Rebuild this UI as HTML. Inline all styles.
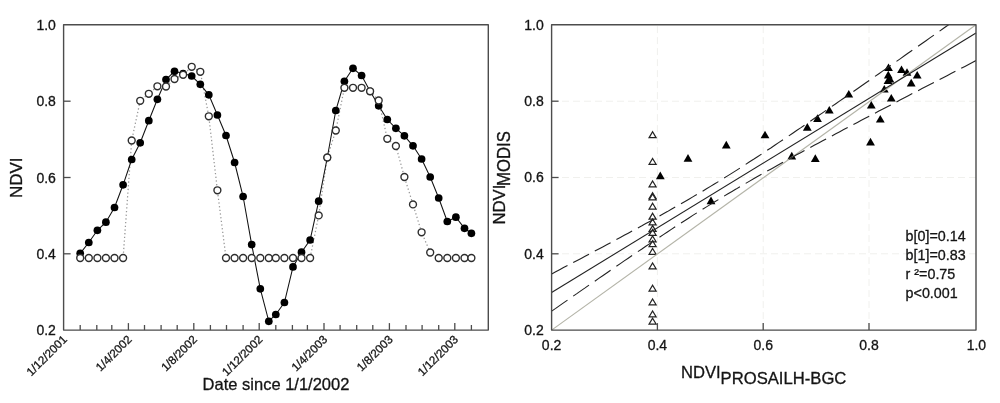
<!DOCTYPE html>
<html><head><meta charset="utf-8"><title>NDVI</title>
<style>html,body{margin:0;padding:0;background:#fff;overflow:hidden}svg{display:block}text{stroke:#141414;stroke-width:.3px}</style></head>
<body>
<svg width="1000" height="403" viewBox="0 0 1000 403" font-family="Liberation Sans, sans-serif" fill="#141414">
<rect width="1000" height="403" fill="#fff"/>
<defs><clipPath id="rc"><rect x="551.6" y="24.8" width="424.4" height="305.4"/></clipPath></defs>
<polyline points="80.2,258.0 88.8,258.0 97.4,258.0 105.9,258.0 114.5,258.0 123.1,258.0 131.7,140.5 140.2,100.8 148.8,93.8 157.4,86.3 166.0,86.5 174.5,79.0 183.1,74.8 191.7,66.8 200.3,71.8 208.8,116.3 217.4,190.3 226.0,258.0 234.6,258.0 243.1,258.0 251.7,258.0 260.3,258.0 268.8,258.0 275.8,258.0 284.4,258.0 293.0,258.0 301.5,258.0 310.1,258.0 318.7,215.4 327.3,157.5 335.8,130.5 344.4,87.8 353.0,87.8 361.6,87.8 370.1,91.3 378.7,100.5 387.3,138.8 395.9,146.0 404.4,177.0 413.0,204.4 421.6,232.3 430.2,252.5 438.7,258.0 447.3,258.0 455.9,258.0 464.5,258.0 471.4,258.0" fill="none" stroke="#979797" stroke-width="1.25" stroke-dasharray="1.3 2.4"/>
<polyline points="80.2,253.3 88.8,242.5 97.4,230.3 105.9,222.2 114.5,207.5 123.1,184.8 131.7,159.5 140.2,142.8 148.8,120.7 157.4,99.3 166.0,79.5 174.5,71.3 183.1,73.5 191.7,76.0 200.3,84.3 208.8,94.8 217.4,115.0 226.0,135.5 234.6,162.5 243.1,196.5 251.7,244.6 260.3,288.8 268.8,321.3 275.8,314.5 284.4,302.5 293.0,266.9 301.5,252.2 310.1,240.0 318.7,201.2 327.3,157.5 335.8,110.5 344.4,81.3 353.0,68.3 361.6,75.5 370.1,91.3 378.7,105.8 387.3,119.5 395.9,128.3 404.4,135.8 413.0,145.8 421.6,159.0 430.2,177.0 438.7,198.0 447.3,221.5 455.9,217.2 464.5,228.3 471.4,233.3" fill="none" stroke="#111" stroke-width="1.05"/>
<g fill="#000" stroke="none">
<circle cx="80.2" cy="253.3" r="3.85"/>
<circle cx="88.8" cy="242.5" r="3.85"/>
<circle cx="97.4" cy="230.3" r="3.85"/>
<circle cx="105.9" cy="222.2" r="3.85"/>
<circle cx="114.5" cy="207.5" r="3.85"/>
<circle cx="123.1" cy="184.8" r="3.85"/>
<circle cx="131.7" cy="159.5" r="3.85"/>
<circle cx="140.2" cy="142.8" r="3.85"/>
<circle cx="148.8" cy="120.7" r="3.85"/>
<circle cx="157.4" cy="99.3" r="3.85"/>
<circle cx="166.0" cy="79.5" r="3.85"/>
<circle cx="174.5" cy="71.3" r="3.85"/>
<circle cx="183.1" cy="73.5" r="3.85"/>
<circle cx="191.7" cy="76.0" r="3.85"/>
<circle cx="200.3" cy="84.3" r="3.85"/>
<circle cx="208.8" cy="94.8" r="3.85"/>
<circle cx="217.4" cy="115.0" r="3.85"/>
<circle cx="226.0" cy="135.5" r="3.85"/>
<circle cx="234.6" cy="162.5" r="3.85"/>
<circle cx="243.1" cy="196.5" r="3.85"/>
<circle cx="251.7" cy="244.6" r="3.85"/>
<circle cx="260.3" cy="288.8" r="3.85"/>
<circle cx="268.8" cy="321.3" r="3.85"/>
<circle cx="275.8" cy="314.5" r="3.85"/>
<circle cx="284.4" cy="302.5" r="3.85"/>
<circle cx="293.0" cy="266.9" r="3.85"/>
<circle cx="301.5" cy="252.2" r="3.85"/>
<circle cx="310.1" cy="240.0" r="3.85"/>
<circle cx="318.7" cy="201.2" r="3.85"/>
<circle cx="327.3" cy="157.5" r="3.85"/>
<circle cx="335.8" cy="110.5" r="3.85"/>
<circle cx="344.4" cy="81.3" r="3.85"/>
<circle cx="353.0" cy="68.3" r="3.85"/>
<circle cx="361.6" cy="75.5" r="3.85"/>
<circle cx="370.1" cy="91.3" r="3.85"/>
<circle cx="378.7" cy="105.8" r="3.85"/>
<circle cx="387.3" cy="119.5" r="3.85"/>
<circle cx="395.9" cy="128.3" r="3.85"/>
<circle cx="404.4" cy="135.8" r="3.85"/>
<circle cx="413.0" cy="145.8" r="3.85"/>
<circle cx="421.6" cy="159.0" r="3.85"/>
<circle cx="430.2" cy="177.0" r="3.85"/>
<circle cx="438.7" cy="198.0" r="3.85"/>
<circle cx="447.3" cy="221.5" r="3.85"/>
<circle cx="455.9" cy="217.2" r="3.85"/>
<circle cx="464.5" cy="228.3" r="3.85"/>
<circle cx="471.4" cy="233.3" r="3.85"/>
</g>
<g fill="#fff" stroke="#2e2e2e" stroke-width="1.4">
<circle cx="80.2" cy="258.0" r="3.45"/>
<circle cx="88.8" cy="258.0" r="3.45"/>
<circle cx="97.4" cy="258.0" r="3.45"/>
<circle cx="105.9" cy="258.0" r="3.45"/>
<circle cx="114.5" cy="258.0" r="3.45"/>
<circle cx="123.1" cy="258.0" r="3.45"/>
<circle cx="131.7" cy="140.5" r="3.45"/>
<circle cx="140.2" cy="100.8" r="3.45"/>
<circle cx="148.8" cy="93.8" r="3.45"/>
<circle cx="157.4" cy="86.3" r="3.45"/>
<circle cx="166.0" cy="86.5" r="3.45"/>
<circle cx="174.5" cy="79.0" r="3.45"/>
<circle cx="183.1" cy="74.8" r="3.45"/>
<circle cx="191.7" cy="66.8" r="3.45"/>
<circle cx="200.3" cy="71.8" r="3.45"/>
<circle cx="208.8" cy="116.3" r="3.45"/>
<circle cx="217.4" cy="190.3" r="3.45"/>
<circle cx="226.0" cy="258.0" r="3.45"/>
<circle cx="234.6" cy="258.0" r="3.45"/>
<circle cx="243.1" cy="258.0" r="3.45"/>
<circle cx="251.7" cy="258.0" r="3.45"/>
<circle cx="260.3" cy="258.0" r="3.45"/>
<circle cx="268.8" cy="258.0" r="3.45"/>
<circle cx="275.8" cy="258.0" r="3.45"/>
<circle cx="284.4" cy="258.0" r="3.45"/>
<circle cx="293.0" cy="258.0" r="3.45"/>
<circle cx="301.5" cy="258.0" r="3.45"/>
<circle cx="310.1" cy="258.0" r="3.45"/>
<circle cx="318.7" cy="215.4" r="3.45"/>
<circle cx="327.3" cy="157.5" r="3.45"/>
<circle cx="335.8" cy="130.5" r="3.45"/>
<circle cx="344.4" cy="87.8" r="3.45"/>
<circle cx="353.0" cy="87.8" r="3.45"/>
<circle cx="361.6" cy="87.8" r="3.45"/>
<circle cx="370.1" cy="91.3" r="3.45"/>
<circle cx="378.7" cy="100.5" r="3.45"/>
<circle cx="387.3" cy="138.8" r="3.45"/>
<circle cx="395.9" cy="146.0" r="3.45"/>
<circle cx="404.4" cy="177.0" r="3.45"/>
<circle cx="413.0" cy="204.4" r="3.45"/>
<circle cx="421.6" cy="232.3" r="3.45"/>
<circle cx="430.2" cy="252.5" r="3.45"/>
<circle cx="438.7" cy="258.0" r="3.45"/>
<circle cx="447.3" cy="258.0" r="3.45"/>
<circle cx="455.9" cy="258.0" r="3.45"/>
<circle cx="464.5" cy="258.0" r="3.45"/>
<circle cx="471.4" cy="258.0" r="3.45"/>
</g>
<g stroke="#4c4c4c" stroke-width="1.3" fill="none">
<line x1="80.2" y1="330.1" x2="80.2" y2="325.0"/>
<line x1="96.8" y1="330.1" x2="96.8" y2="325.0"/>
<line x1="111.8" y1="330.1" x2="111.8" y2="325.0"/>
<line x1="128.4" y1="330.1" x2="128.4" y2="323.1"/>
<line x1="144.5" y1="330.1" x2="144.5" y2="325.0"/>
<line x1="161.1" y1="330.1" x2="161.1" y2="325.0"/>
<line x1="177.2" y1="330.1" x2="177.2" y2="325.0"/>
<line x1="193.8" y1="330.1" x2="193.8" y2="323.1"/>
<line x1="210.4" y1="330.1" x2="210.4" y2="325.0"/>
<line x1="226.5" y1="330.1" x2="226.5" y2="325.0"/>
<line x1="243.1" y1="330.1" x2="243.1" y2="325.0"/>
<line x1="259.2" y1="330.1" x2="259.2" y2="323.1"/>
<line x1="275.8" y1="330.1" x2="275.8" y2="325.0"/>
<line x1="292.4" y1="330.1" x2="292.4" y2="325.0"/>
<line x1="307.4" y1="330.1" x2="307.4" y2="325.0"/>
<line x1="324.0" y1="330.1" x2="324.0" y2="323.1"/>
<line x1="340.1" y1="330.1" x2="340.1" y2="325.0"/>
<line x1="356.7" y1="330.1" x2="356.7" y2="325.0"/>
<line x1="372.8" y1="330.1" x2="372.8" y2="325.0"/>
<line x1="389.4" y1="330.1" x2="389.4" y2="323.1"/>
<line x1="406.0" y1="330.1" x2="406.0" y2="325.0"/>
<line x1="422.1" y1="330.1" x2="422.1" y2="325.0"/>
<line x1="438.7" y1="330.1" x2="438.7" y2="325.0"/>
<line x1="454.8" y1="330.1" x2="454.8" y2="323.1"/>
<line x1="471.4" y1="330.1" x2="471.4" y2="325.0"/>
<line x1="63.6" y1="253.8" x2="70.6" y2="253.8"/>
<line x1="63.6" y1="177.5" x2="70.6" y2="177.5"/>
<line x1="63.6" y1="101.2" x2="70.6" y2="101.2"/>
</g>
<rect x="63.6" y="24.8" width="424.7" height="305.3" fill="none" stroke="#4c4c4c" stroke-width="1.4" stroke-linejoin="round"/>
<g font-size="14" text-anchor="end">
<text x="55.9" y="335.2">0.2</text>
<text x="55.9" y="258.9">0.4</text>
<text x="55.9" y="182.7">0.6</text>
<text x="55.9" y="106.4">0.8</text>
<text x="55.9" y="30.2">1.0</text>
</g>
<g font-size="11.6" text-anchor="end">
<text transform="translate(67.7,340.2) rotate(-45)">1/12/2001</text>
<text transform="translate(132.5,340.2) rotate(-45)">1/4/2002</text>
<text transform="translate(197.9,340.2) rotate(-45)">1/8/2002</text>
<text transform="translate(263.3,340.2) rotate(-45)">1/12/2002</text>
<text transform="translate(328.1,340.2) rotate(-45)">1/4/2003</text>
<text transform="translate(393.5,340.2) rotate(-45)">1/8/2003</text>
<text transform="translate(458.9,340.2) rotate(-45)">1/12/2003</text>
</g>
<text transform="translate(22.2,177.8) rotate(-90)" font-size="17" text-anchor="middle">NDVI</text>
<text x="276" y="389.5" font-size="16.5" text-anchor="middle">Date since 1/1/2002</text>
<g stroke="#f0f0ed" stroke-width="1" stroke-dasharray="7 4" fill="none">
<line x1="551.0" y1="253.8" x2="976.0" y2="253.8"/>
<line x1="657.4" y1="330.1" x2="657.4" y2="24.8"/>
<line x1="551.0" y1="177.5" x2="976.0" y2="177.5"/>
<line x1="763.2" y1="330.1" x2="763.2" y2="24.8"/>
<line x1="551.0" y1="101.2" x2="976.0" y2="101.2"/>
<line x1="869.0" y1="330.1" x2="869.0" y2="24.8"/>
</g>
<g fill="#fff" stroke="#222" stroke-width="1.25">
<polygon points="652.6,131.8 656.1,137.6 649.1,137.6"/>
<polygon points="652.6,158.5 656.1,164.3 649.1,164.3"/>
<polygon points="652.6,181.0 656.1,186.8 649.1,186.8"/>
<polygon points="652.6,192.8 656.1,198.6 649.1,198.6"/>
<polygon points="652.6,194.0 656.1,199.8 649.1,199.8"/>
<polygon points="652.6,203.2 656.1,209.0 649.1,209.0"/>
<polygon points="652.6,213.3 656.1,219.1 649.1,219.1"/>
<polygon points="652.6,219.0 656.1,224.8 649.1,224.8"/>
<polygon points="652.6,225.6 656.1,231.4 649.1,231.4"/>
<polygon points="652.6,229.5 656.1,235.3 649.1,235.3"/>
<polygon points="652.6,236.0 656.1,241.8 649.1,241.8"/>
<polygon points="652.6,240.7 656.1,246.5 649.1,246.5"/>
<polygon points="652.6,248.5 656.1,254.3 649.1,254.3"/>
<polygon points="652.6,263.0 656.1,268.8 649.1,268.8"/>
<polygon points="652.6,285.2 656.1,291.0 649.1,291.0"/>
<polygon points="652.6,299.0 656.1,304.8 649.1,304.8"/>
<polygon points="652.6,311.0 656.1,316.8 649.1,316.8"/>
<polygon points="652.6,318.2 656.1,324.0 649.1,324.0"/>
</g>
<g fill="#000">
<polygon points="660.3,171.5 664.7,179.2 655.9,179.2"/>
<polygon points="688.0,154.0 692.4,161.7 683.6,161.7"/>
<polygon points="711.0,196.5 715.4,204.2 706.6,204.2"/>
<polygon points="726.3,140.8 730.7,148.5 721.9,148.5"/>
<polygon points="765.0,130.7 769.4,138.3 760.6,138.3"/>
<polygon points="791.8,151.8 796.2,159.5 787.4,159.5"/>
<polygon points="807.3,123.0 811.7,130.7 802.9,130.7"/>
<polygon points="815.3,154.3 819.7,162.0 810.9,162.0"/>
<polygon points="817.5,114.2 821.9,121.9 813.1,121.9"/>
<polygon points="829.3,106.0 833.7,113.6 824.9,113.6"/>
<polygon points="848.8,90.0 853.2,97.6 844.4,97.6"/>
<polygon points="870.5,137.8 874.9,145.5 866.1,145.5"/>
<polygon points="871.3,101.0 875.7,108.6 866.9,108.6"/>
<polygon points="880.3,115.0 884.7,122.6 875.9,122.6"/>
<polygon points="884.3,85.0 888.7,92.6 879.9,92.6"/>
<polygon points="891.3,94.0 895.7,101.6 886.9,101.6"/>
<polygon points="888.5,63.4 892.9,71.1 884.1,71.1"/>
<polygon points="888.3,70.8 892.7,78.4 883.9,78.4"/>
<polygon points="888.0,76.5 892.4,84.1 883.6,84.1"/>
<polygon points="890.0,75.0 894.4,82.6 885.6,82.6"/>
<polygon points="901.5,65.5 905.9,73.1 897.1,73.1"/>
<polygon points="907.0,68.2 911.4,75.8 902.6,75.8"/>
<polygon points="917.2,71.0 921.6,78.6 912.8,78.6"/>
<polygon points="911.2,78.8 915.6,86.4 906.8,86.4"/>
</g>
<line x1="551.6" y1="330.1" x2="976.0" y2="24.8" stroke="#b4b4a8" stroke-width="1.15"/>
<line x1="551.6" y1="292.5" x2="976.0" y2="33" stroke="#222" stroke-width="1.1"/>
<g fill="none" stroke="#222" stroke-width="1.1" clip-path="url(#rc)">
<polyline points="551.7,273.9 555.7,271.8 559.6,269.7 563.5,267.6 567.5,265.6"/>
<polyline points="573.2,262.5 577.2,260.4 581.1,258.4 585.1,256.3 589.0,254.2"/>
<polyline points="594.8,251.1 598.8,249.0 602.7,246.9 606.7,244.8 610.6,242.7"/>
<polyline points="616.4,239.6 620.3,237.5 624.2,235.3 628.2,233.2 632.1,231.1"/>
<polyline points="637.9,227.9 641.9,225.8 645.8,223.6 649.8,221.4 653.7,219.2"/>
<polyline points="659.5,216.0 663.4,213.8 667.4,211.6 671.3,209.3 675.2,207.1"/>
<polyline points="681.0,203.8 685.0,201.5 688.9,199.2 692.8,196.9 696.8,194.6"/>
<polyline points="702.6,191.2 706.5,188.8 710.5,186.4 714.4,184.0 718.4,181.6"/>
<polyline points="724.1,178.0 728.0,175.6 732.0,173.1 736.0,170.6 739.9,168.1"/>
<polyline points="745.7,164.4 749.6,161.8 753.6,159.3 757.5,156.7 761.5,154.1"/>
<polyline points="767.2,150.3 771.2,147.7 775.1,145.0 779.0,142.4 783.0,139.8"/>
<polyline points="788.8,135.9 792.7,133.2 796.6,130.5 800.6,127.9 804.5,125.2"/>
<polyline points="810.3,121.2 814.2,118.5 818.2,115.8 822.2,113.1 826.1,110.4"/>
<polyline points="831.9,106.4 835.8,103.7 839.8,100.9 843.7,98.2 847.7,95.5"/>
<polyline points="853.4,91.5 857.4,88.7 861.3,86.0 865.2,83.2 869.2,80.5"/>
<polyline points="875.0,76.4 878.9,73.7 882.9,70.9 886.8,68.2 890.8,65.4"/>
<polyline points="896.5,61.4 900.5,58.6 904.4,55.8 908.3,53.0 912.3,50.3"/>
<polyline points="918.1,46.2 922.0,43.5 926.0,40.7 929.9,37.9 933.9,35.1"/>
<polyline points="939.6,31.1 943.6,28.3 947.5,25.5 951.5,22.7 955.4,19.9"/>
<polyline points="961.2,15.9 964.9,13.3 968.6,10.6 972.3,8.0 976.0,5.4"/>
<polyline points="551.7,311.1 555.7,308.4 559.6,305.6 563.5,302.9 567.5,300.1"/>
<polyline points="573.2,296.1 577.2,293.4 581.1,290.6 585.1,287.9 589.0,285.1"/>
<polyline points="594.8,281.2 598.8,278.4 602.7,275.7 606.7,273.0 610.6,270.3"/>
<polyline points="616.4,266.3 620.3,263.6 624.2,260.9 628.2,258.2 632.1,255.5"/>
<polyline points="637.9,251.6 641.9,249.0 645.8,246.3 649.8,243.6 653.7,241.0"/>
<polyline points="659.5,237.2 663.4,234.6 667.4,232.0 671.3,229.4 675.2,226.8"/>
<polyline points="681.0,223.0 685.0,220.5 688.9,218.0 692.8,215.4 696.8,212.9"/>
<polyline points="702.6,209.3 706.5,206.9 710.5,204.4 714.4,202.0 718.4,199.6"/>
<polyline points="724.1,196.1 728.0,193.7 732.0,191.4 736.0,189.1 739.9,186.7"/>
<polyline points="745.7,183.4 749.6,181.1 753.6,178.8 757.5,176.6 761.5,174.3"/>
<polyline points="767.2,171.1 771.2,168.9 775.1,166.7 779.0,164.5 783.0,162.3"/>
<polyline points="788.8,159.2 792.7,157.0 796.6,154.8 800.6,152.7 804.5,150.6"/>
<polyline points="810.3,147.4 814.2,145.3 818.2,143.2 822.2,141.1 826.1,139.0"/>
<polyline points="831.9,135.9 835.8,133.8 839.8,131.7 843.7,129.6 847.7,127.5"/>
<polyline points="853.4,124.5 857.4,122.4 861.3,120.3 865.2,118.2 869.2,116.2"/>
<polyline points="875.0,113.2 878.9,111.1 882.9,109.0 886.8,106.9 890.8,104.9"/>
<polyline points="896.5,101.9 900.5,99.8 904.4,97.8 908.3,95.7 912.3,93.6"/>
<polyline points="918.1,90.7 922.0,88.6 926.0,86.5 929.9,84.5 933.9,82.4"/>
<polyline points="939.6,79.5 943.6,77.4 947.5,75.4 951.5,73.3 955.4,71.3"/>
<polyline points="961.2,68.3 964.9,66.4 968.6,64.4 972.3,62.5 976.0,60.6"/>
</g>
<g stroke="#4c4c4c" stroke-width="1.3" fill="none">
<line x1="551.6" y1="253.8" x2="558.6" y2="253.8"/>
<line x1="657.4" y1="330.1" x2="657.4" y2="323.1"/>
<line x1="551.6" y1="177.5" x2="558.6" y2="177.5"/>
<line x1="763.2" y1="330.1" x2="763.2" y2="323.1"/>
<line x1="551.6" y1="101.2" x2="558.6" y2="101.2"/>
<line x1="869.0" y1="330.1" x2="869.0" y2="323.1"/>
</g>
<rect x="551.6" y="24.8" width="424.4" height="305.3" fill="none" stroke="#4c4c4c" stroke-width="1.4" stroke-linejoin="round"/>
<g font-size="14" text-anchor="end">
<text x="543.8" y="334.9">0.2</text>
<text x="543.8" y="258.6">0.4</text>
<text x="543.8" y="182.4">0.6</text>
<text x="543.8" y="106.1">0.8</text>
<text x="543.8" y="29.9">1.0</text>
</g>
<g font-size="14" text-anchor="middle">
<text x="551.6" y="350.3">0.2</text>
<text x="657.4" y="350.3">0.4</text>
<text x="763.2" y="350.3">0.6</text>
<text x="869.0" y="350.3">0.8</text>
<text x="976.4" y="350.3">1.0</text>
</g>
<text transform="translate(505.1,224.6) rotate(-90) scale(1,1.02)" font-size="16.7">NDVI</text>
<text transform="translate(510.4,185.9) rotate(-90) scale(1,1.1)" font-size="16.7">MODIS</text>
<text x="681" y="378.1" font-size="16.6">NDVI</text>
<text x="720.6" y="383.8" font-size="16.65">PROSAILH-BGC</text>
<g font-size="14.3">
<text x="905.6" y="241.0">b[0]=0.14</text>
<text x="905.6" y="260.1">b[1]=0.83</text>
<text x="905.6" y="279.2">r ²=0.75</text>
<text x="905.6" y="298.3">p&lt;0.001</text>
</g>
</svg>
</body></html>
